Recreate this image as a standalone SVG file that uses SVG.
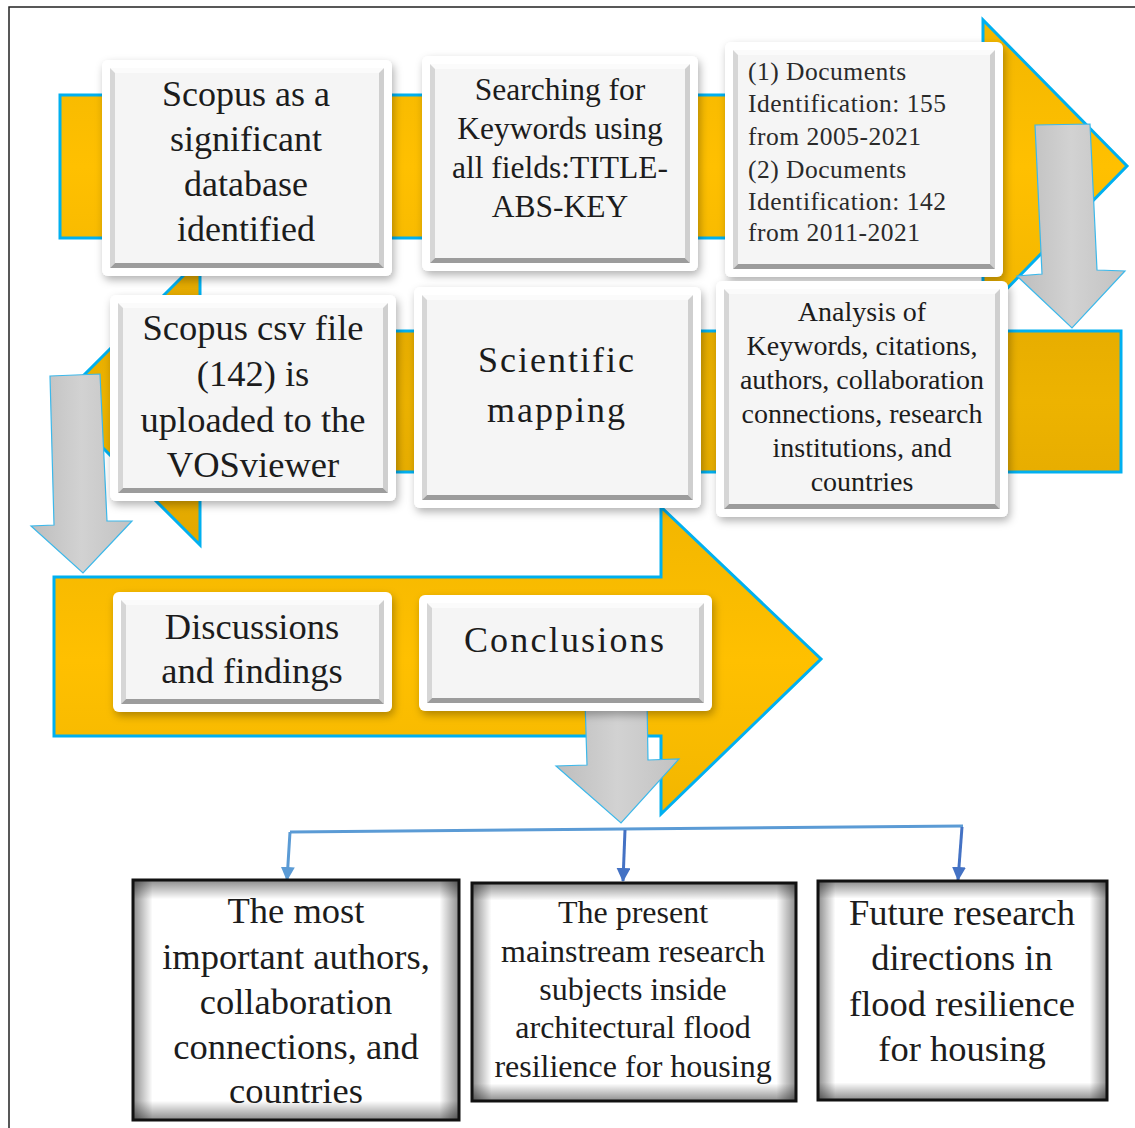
<svg xmlns="http://www.w3.org/2000/svg" width="1135" height="1128" viewBox="0 0 1135 1128">
<defs>
<style>
.frame{fill:none;stroke:#222;stroke-width:1.5}
.gold{stroke:#00B0F0;stroke-width:3;stroke-linejoin:miter}
.gray{fill:url(#gGray);stroke:#3CB8EA;stroke-width:1.2}
.outer{fill:#fff;filter:url(#shadow)}
.bt{fill:#fbfbfb}.bl{fill:#d6d6d6}.br{fill:#cfcfcf}.bb{fill:#9c9c9c}.face{fill:#f5f5f5}
.bx{fill:#fff}
.vh{fill:url(#vigH)}.vv{fill:url(#vigV)}
.bxs{fill:none;stroke:#111;stroke-width:3}
.t{font-family:"Liberation Serif","Times New Roman",serif;fill:#1c1c1c;text-anchor:middle}
.tl{font-family:"Liberation Serif","Times New Roman",serif;fill:#2a2a2a}
.c1{fill:none;stroke:#5B9BD5;stroke-width:3}
.c2{fill:none;stroke:#4472C4;stroke-width:3}
</style>
<linearGradient id="gGold1" x1="0" y1="0" x2="0" y2="1"><stop offset="0" stop-color="#F2B600"/><stop offset="0.5" stop-color="#FFC000"/><stop offset="1" stop-color="#F2B600"/></linearGradient>
<linearGradient id="gGold2" x1="0" y1="0" x2="0" y2="1"><stop offset="0" stop-color="#E2A800"/><stop offset="0.5" stop-color="#EDB300"/><stop offset="1" stop-color="#E2A800"/></linearGradient>
<linearGradient id="gGray" x1="0" y1="0" x2="1" y2="0"><stop offset="0" stop-color="#BDBDBD"/><stop offset="0.5" stop-color="#D2D2D2"/><stop offset="1" stop-color="#C2C2C2"/></linearGradient>
<linearGradient id="vigH" x1="0" y1="0" x2="1" y2="0"><stop offset="0" stop-color="#000" stop-opacity="0.45"/><stop offset="0.06" stop-color="#000" stop-opacity="0"/><stop offset="0.94" stop-color="#000" stop-opacity="0"/><stop offset="1" stop-color="#000" stop-opacity="0.45"/></linearGradient>
<linearGradient id="vigV" x1="0" y1="0" x2="0" y2="1"><stop offset="0" stop-color="#000" stop-opacity="0.45"/><stop offset="0.08" stop-color="#000" stop-opacity="0"/><stop offset="0.92" stop-color="#000" stop-opacity="0"/><stop offset="1" stop-color="#000" stop-opacity="0.45"/></linearGradient>
<filter id="shadow" x="-10%" y="-10%" width="125%" height="130%"><feDropShadow dx="2" dy="4" stdDeviation="4" flood-color="#000" flood-opacity="0.3"/></filter>
<marker id="m1" markerUnits="userSpaceOnUse" markerWidth="14" markerHeight="16" refX="13" refY="7" orient="auto"><path d="M0,0 L14,7 L0,14 Z" fill="#5B9BD5"/></marker>
<marker id="m2" markerUnits="userSpaceOnUse" markerWidth="14" markerHeight="16" refX="13" refY="7" orient="auto"><path d="M0,0 L14,7 L0,14 Z" fill="#4472C4"/></marker>
</defs>
<rect x="0" y="0" width="1135" height="1128" fill="#fff"/>
<rect class="frame" x="9" y="7" width="1140" height="1140"/>

<g id="flow-arrows">
<polygon id="arrow-row1" class="gold" fill="url(#gGold1)" points="60,95 983,95 983,20 1127,166 983,313 983,238 60,238"/>
<polygon id="arrow-row2" class="gold" fill="url(#gGold2)" points="1121,331 200,331 200,259 57,402 200,545 200,472 1121,472"/>
<polygon id="arrow-row3" class="gold" fill="url(#gGold1)" points="54,577 661,577 661,507 821,659 661,814 661,736 54,736"/>
<polygon id="down-right" class="gray" points="1035,125 1090,124 1097,270 1125,271 1072,328 1017,276 1042,274"/>
<polygon id="down-left" class="gray" points="50,376 100,374 107,521 132,521 83,573 31,526 54,525"/>
<polygon id="down-bottom" class="gray" points="585,700 647,700 648,760 679,759 621,823 556,766 587,765"/>
</g>

<g id="box-scopus">
<rect class="outer" x="102" y="60" width="290" height="216" rx="6"/>
<polygon class="bt" points="110,68 384,68 379,73 115,73"/>
<polygon class="bl" points="110,68 115,73 115,263 110,268"/>
<polygon class="br" points="384,68 384,268 379,263 379,73"/>
<polygon class="bb" points="110,268 384,268 379,263 115,263"/>
<rect class="face" x="115" y="73" width="264" height="190"/>
<text class="t" font-size="36"><tspan x="246" y="106">Scopus as a</tspan><tspan x="246" y="151">significant</tspan><tspan x="246" y="196">database</tspan><tspan x="246" y="241">identified</tspan></text>
</g>

<g id="box-search">
<rect class="outer" x="422" y="56" width="276" height="215" rx="6"/>
<polygon class="bt" points="430,64 690,64 685,69 435,69"/>
<polygon class="bl" points="430,64 435,69 435,258 430,263"/>
<polygon class="br" points="690,64 690,263 685,258 685,69"/>
<polygon class="bb" points="430,263 690,263 685,258 435,258"/>
<rect class="face" x="435" y="69" width="250" height="189"/>
<text class="t" font-size="31.5"><tspan x="560" y="100">Searching for</tspan><tspan x="560" y="139">Keywords using</tspan><tspan x="560" y="178">all fields:TITLE-</tspan><tspan x="560" y="217">ABS-KEY</tspan></text>
</g>

<g id="box-documents">
<rect class="outer" x="725" y="42" width="278" height="235" rx="6"/>
<polygon class="bt" points="733,50 995,50 990,55 738,55"/>
<polygon class="bl" points="733,50 738,55 738,264 733,269"/>
<polygon class="br" points="995,50 995,269 990,264 990,55"/>
<polygon class="bb" points="733,269 995,269 990,264 738,264"/>
<rect class="face" x="738" y="55" width="252" height="209"/>
<text class="tl" font-size="25.5" letter-spacing="0.5"><tspan x="748" y="80">(1) Documents</tspan><tspan x="748" y="112">Identification: 155</tspan><tspan x="748" y="145">from 2005-2021</tspan><tspan x="748" y="178">(2) Documents</tspan><tspan x="748" y="210">Identification: 142</tspan><tspan x="748" y="241">from 2011-2021</tspan></text>
</g>

<g id="box-csv">
<rect class="outer" x="110" y="295" width="286" height="206" rx="6"/>
<polygon class="bt" points="118,303 388,303 383,308 123,308"/>
<polygon class="bl" points="118,303 123,308 123,488 118,493"/>
<polygon class="br" points="388,303 388,493 383,488 383,308"/>
<polygon class="bb" points="118,493 388,493 383,488 123,488"/>
<rect class="face" x="123" y="308" width="260" height="180"/>
<text class="t" font-size="36.5"><tspan x="253" y="340">Scopus csv file</tspan><tspan x="253" y="386">(142) is</tspan><tspan x="253" y="432">uploaded to the</tspan><tspan x="253" y="477">VOSviewer</tspan></text>
</g>

<g id="box-mapping">
<rect class="outer" x="414" y="287" width="287" height="221" rx="6"/>
<polygon class="bt" points="422,295 693,295 688,300 427,300"/>
<polygon class="bl" points="422,295 427,300 427,495 422,500"/>
<polygon class="br" points="693,295 693,500 688,495 688,300"/>
<polygon class="bb" points="422,500 693,500 688,495 427,495"/>
<rect class="face" x="427" y="300" width="261" height="195"/>
<text class="t" font-size="36" letter-spacing="2" fill="#333"><tspan x="557" y="372">Scientific</tspan><tspan x="557" y="422">mapping</tspan></text>
</g>

<g id="box-analysis">
<rect class="outer" x="716" y="281" width="292" height="236" rx="6"/>
<polygon class="bt" points="724,289 1000,289 995,294 729,294"/>
<polygon class="bl" points="724,289 729,294 729,504 724,509"/>
<polygon class="br" points="1000,289 1000,509 995,504 995,294"/>
<polygon class="bb" points="724,509 1000,509 995,504 729,504"/>
<rect class="face" x="729" y="294" width="266" height="210"/>
<text class="t" font-size="28"><tspan x="862" y="321">Analysis of</tspan><tspan x="862" y="355">Keywords, citations,</tspan><tspan x="862" y="389">authors, collaboration</tspan><tspan x="862" y="423">connections, research</tspan><tspan x="862" y="457">institutions, and</tspan><tspan x="862" y="491">countries</tspan></text>
</g>

<g id="box-discussions">
<rect class="outer" x="113" y="592" width="279" height="120" rx="6"/>
<polygon class="bt" points="121,600 384,600 379,605 126,605"/>
<polygon class="bl" points="121,600 126,605 126,699 121,704"/>
<polygon class="br" points="384,600 384,704 379,699 379,605"/>
<polygon class="bb" points="121,704 384,704 379,699 126,699"/>
<rect class="face" x="126" y="605" width="253" height="94"/>
<text class="t" font-size="36.5"><tspan x="252" y="639">Discussions</tspan><tspan x="252" y="683">and findings</tspan></text>
</g>

<g id="box-conclusions">
<rect class="outer" x="419" y="595" width="293" height="116" rx="6"/>
<polygon class="bt" points="427,603 704,603 699,608 432,608"/>
<polygon class="bl" points="427,603 432,608 432,698 427,703"/>
<polygon class="br" points="704,603 704,703 699,698 699,608"/>
<polygon class="bb" points="427,703 704,703 699,698 432,698"/>
<rect class="face" x="432" y="608" width="267" height="90"/>
<text class="t" font-size="36" letter-spacing="2.2"><tspan x="565" y="652">Conclusions</tspan></text>
</g>

<g id="connectors">
<path class="c1" d="M290,832 L963,826"/>
<path class="c1" d="M290,832 L287,880" marker-end="url(#m1)"/>
<path class="c2" d="M625,830 L623,881" marker-end="url(#m2)"/>
<path class="c2" d="M962,827 L958,880" marker-end="url(#m2)"/>
</g>

<g id="box-authors">
<rect class="bx" x="133" y="880" width="326" height="240"/>
<rect class="vh" x="133" y="880" width="326" height="240"/>
<rect class="vv" x="133" y="880" width="326" height="240"/>
<rect class="bxs" x="133" y="880" width="326" height="240"/>
<text class="t" font-size="36.5"><tspan x="296" y="923">The most</tspan><tspan x="296" y="969">important authors,</tspan><tspan x="296" y="1014">collaboration</tspan><tspan x="296" y="1059">connections, and</tspan><tspan x="296" y="1103">countries</tspan></text>
</g>

<g id="box-mainstream">
<rect class="bx" x="472" y="883" width="324" height="218"/>
<rect class="vh" x="472" y="883" width="324" height="218"/>
<rect class="vv" x="472" y="883" width="324" height="218"/>
<rect class="bxs" x="472" y="883" width="324" height="218"/>
<text class="t" font-size="32"><tspan x="633" y="923">The present</tspan><tspan x="633" y="962">mainstream research</tspan><tspan x="633" y="1000">subjects inside</tspan><tspan x="633" y="1038">architectural flood</tspan><tspan x="633" y="1077">resilience for housing</tspan></text>
</g>

<g id="box-future">
<rect class="bx" x="818" y="881" width="289" height="219"/>
<rect class="vh" x="818" y="881" width="289" height="219"/>
<rect class="vv" x="818" y="881" width="289" height="219"/>
<rect class="bxs" x="818" y="881" width="289" height="219"/>
<text class="t" font-size="36.5"><tspan x="962" y="925">Future research</tspan><tspan x="962" y="970">directions in</tspan><tspan x="962" y="1016">flood resilience</tspan><tspan x="962" y="1061">for housing</tspan></text>
</g>
</svg>
